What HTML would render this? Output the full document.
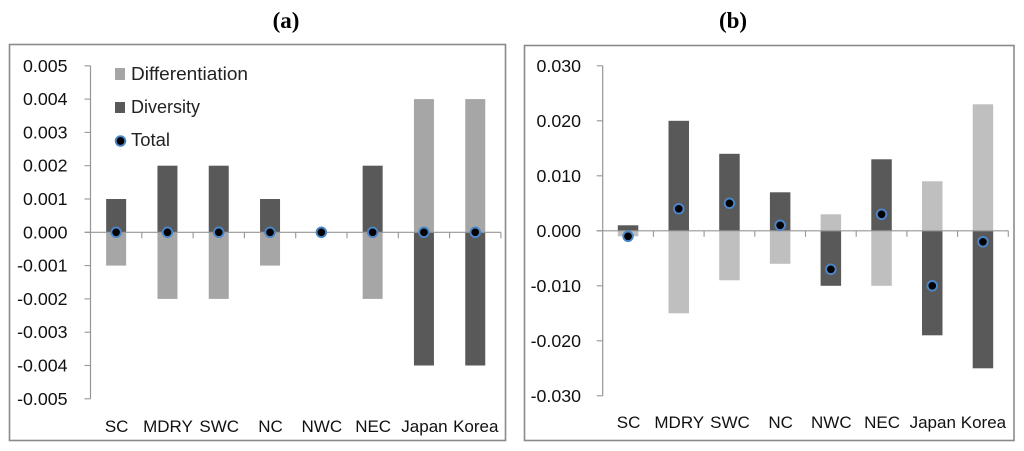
<!DOCTYPE html>
<html>
<head>
<meta charset="utf-8">
<title>Differentiation and diversity charts</title>
<style>
html,body{margin:0;padding:0;background:#fff;width:1024px;height:451px;overflow:hidden}
svg{display:block;font-family:"Liberation Sans",sans-serif;filter:blur(0.35px)}
</style>
</head>
<body>
<svg id="root" width="1024" height="451" viewBox="0 0 1024 451" xmlns="http://www.w3.org/2000/svg"></svg>
<script>
const categories = ["SC","MDRY","SWC","NC","NWC","NEC","Japan","Korea"];
const tickLabelsA = ["0.005","0.004","0.003","0.002","0.001","0.000","-0.001","-0.002","-0.003","-0.004","-0.005"];
const tickLabelsB = ["0.030","0.020","0.010","0.000","-0.010","-0.020","-0.030"];
const differentiationA = [-0.001,-0.002,-0.002,-0.001,0,-0.002,0.004,0.004];
const diversityA = [0.001,0.002,0.002,0.001,0,0.002,-0.004,-0.004];
const totalA = [0,0,0,0,0,0,0,0];
const differentiationB = [-0.001,-0.015,-0.009,-0.006,0.003,-0.010,0.009,0.023];
const diversityB = [0.001,0.020,0.014,0.007,-0.010,0.013,-0.019,-0.025];
const totalB = [-0.001,0.004,0.005,0.001,-0.007,0.003,-0.010,-0.002];

const NS = "http://www.w3.org/2000/svg";
const root = document.getElementById("root");
function make(parent, tag, attrs, text) {
  const el = document.createElementNS(NS, tag);
  for (const k in attrs) el.setAttribute(k, attrs[k]);
  if (text !== undefined) el.textContent = text;
  parent.appendChild(el);
  return el;
}
function drawPanel(cfg) {
  const g = make(root, "g", {});
  
  

  const title = make(g, "text", {x: cfg.titleX, y: 28, "text-anchor": "middle",
    "font-family": '"Liberation Serif",serif', "font-weight": "bold", "font-size": 23, fill: "#000"}, cfg.title);
  
  

  const frame = make(g, "rect", {x: cfg.fx, y: cfg.fy, width: cfg.fw, height: cfg.fh, fill: "#fff", stroke: "#8a8a8a", "stroke-width": 1.6});
  
  

  const yScale = v => cfg.y0 - v * cfg.pxPerUnit;
  const xScale = i => cfg.axisX + (i + 0.5) * cfg.band;
  const axisEnd = cfg.axisX + cfg.band * categories.length;
  const barW = cfg.barW;

  function bars(values, color, seriesName) {
    values.forEach((v, i) => {
      if (v === 0) return;
      const y1 = yScale(Math.max(v, 0)), y2 = yScale(Math.min(v, 0));
      const bar = make(g, "rect", {x: xScale(i) - barW / 2, y: y1, width: barW, height: y2 - y1, fill: color});
      
      
    });
  }
  bars(cfg.diff, cfg.lightColor, 'differentiation');
  bars(cfg.div, "#595959", 'diversity');

  const yAxis = make(g, "line", {x1: cfg.axisX, x2: cfg.axisX, y1: yScale(cfg.yMax), y2: yScale(-cfg.yMax), stroke: "#969696", "stroke-width": 1.2});
  
  
  const xAxis = make(g, "line", {x1: cfg.axisX - 6, x2: axisEnd, y1: cfg.y0, y2: cfg.y0, stroke: "#969696", "stroke-width": 1.2});
  
  

  cfg.ticks.forEach((label, i) => {
    const v = cfg.yMax - i * cfg.step;
    const y = yScale(v);
    const t = make(g, "line", {x1: cfg.axisX - 6, x2: cfg.axisX, y1: y, y2: y, stroke: "#969696", "stroke-width": 1.1});
    
    
    const tl = make(g, "text", {x: cfg.labelX, y: y + 6, "text-anchor": "end", "font-size": 17.8, fill: "#111"}, label);
    
    
  });

  categories.forEach((c, i) => {
    const tx = cfg.axisX + (i + 1) * cfg.band;
    const t = make(g, "line", {x1: tx, x2: tx, y1: cfg.y0, y2: cfg.y0 + 6, stroke: "#969696", "stroke-width": 1.1});
    
    
    const l = make(g, "text", {x: xScale(i) + 0.5, y: cfg.catY, "text-anchor": "middle", "font-size": 17, fill: "#111"}, c);
    
    
  });

  cfg.total.forEach((v, i) => {
    const d = make(g, "circle", {cx: xScale(i), cy: yScale(v), r: 4.8, fill: "#000", stroke: "#4a86c8", "stroke-width": 1.9});
    
    
  });
}

drawPanel({name: "panel-a", title: "(a)", titleX: 286, fx: 9.5, fy: 44.5, fw: 496, fh: 396,
  y0: 232.3, pxPerUnit: 33300, yMax: 0.005, step: 0.001, axisX: 90.5, band: 51.3, barW: 20,
  labelX: 67.5, catY: 432, ticks: tickLabelsA, diff: differentiationA, div: diversityA, total: totalA, lightColor: "#a6a6a6"});

drawPanel({name: "panel-b", title: "(b)", titleX: 733, fx: 524.5, fy: 45.5, fw: 489.5, fh: 395,
  y0: 230.8, pxPerUnit: 5500, yMax: 0.030, step: 0.010, axisX: 602.7, band: 50.7, barW: 20.5,
  labelX: 581, catY: 428, ticks: tickLabelsB, diff: differentiationB, div: diversityB, total: totalB, lightColor: "#bfbfbf"});

const legend = make(root, "g", {});


const sw1 = make(legend, "rect", {x: 115, y: 68, width: 10, height: 12, fill: "#a6a6a6"});


const tx1 = make(legend, "text", {x: 131, y: 80, "font-size": 18, fill: "#222", textLength: 117, lengthAdjust: "spacingAndGlyphs"}, "Differentiation");


const sw2 = make(legend, "rect", {x: 115, y: 102, width: 10, height: 11, fill: "#595959"});


const tx2 = make(legend, "text", {x: 131, y: 113, "font-size": 18, fill: "#222", textLength: 69, lengthAdjust: "spacingAndGlyphs"}, "Diversity");


const sw3 = make(legend, "circle", {cx: 120.5, cy: 141, r: 4.8, fill: "#000", stroke: "#4a86c8", "stroke-width": 1.9});


const tx3 = make(legend, "text", {x: 131, y: 146, "font-size": 18, fill: "#222", textLength: 39, lengthAdjust: "spacingAndGlyphs"}, "Total");


</script>
</body>
</html>
